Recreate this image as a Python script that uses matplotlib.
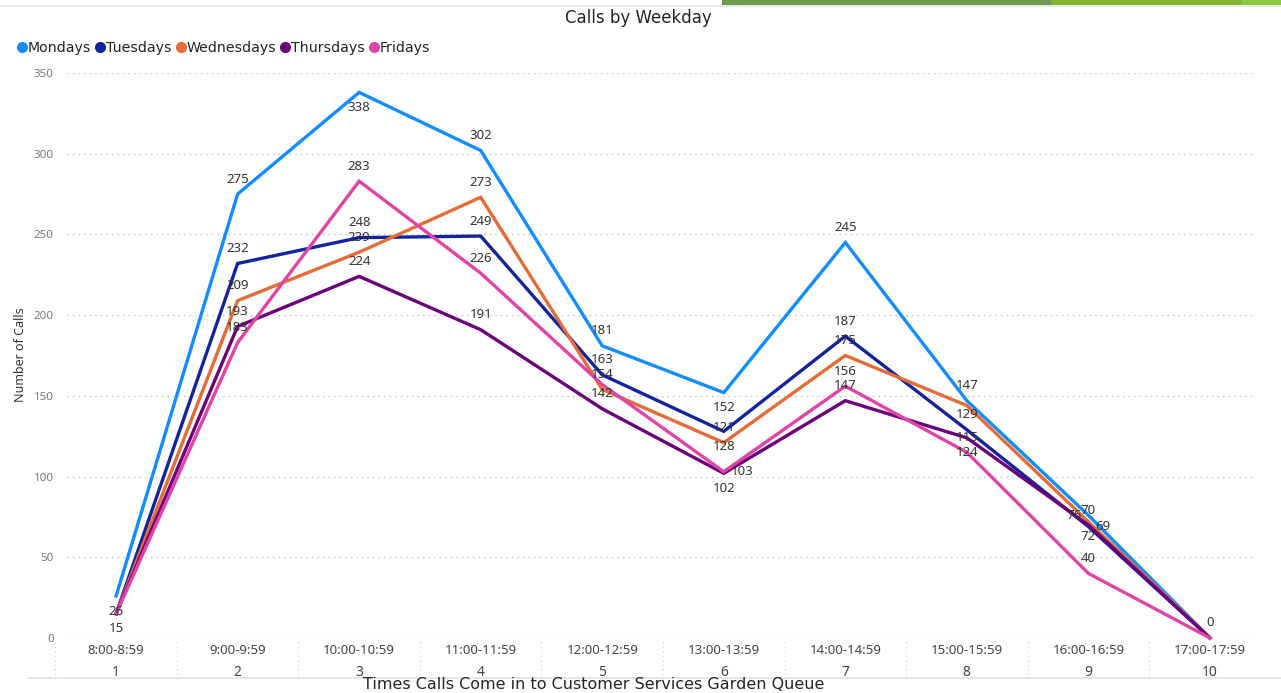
import matplotlib
matplotlib.use("Agg")
import matplotlib.pyplot as plt
from matplotlib.lines import Line2D
from matplotlib.patches import Rectangle
import matplotlib.transforms as mtransforms

# ---------------- data ----------------
categories = ["8:00-8:59", "9:00-9:59", "10:00-10:59", "11:00-11:59", "12:00-12:59",
              "13:00-13:59", "14:00-14:59", "15:00-15:59", "16:00-16:59", "17:00-17:59"]
slots = [1, 2, 3, 4, 5, 6, 7, 8, 9, 10]
series_names = ["Mondays", "Tuesdays", "Wednesdays", "Thursdays", "Fridays"]
mondays = [26, 275, 338, 302, 181, 152, 245, 147, 76, 0]
tuesdays = [15, 232, 248, 249, 163, 128, 187, 129, 69, 0]
wednesdays = [15, 209, 239, 273, 154, 121, 175, 144, 72, 0]
thursdays = [15, 193, 224, 191, 142, 102, 147, 124, 70, 0]
fridays = [15, 183, 283, 226, 157, 103, 156, 115, 40, 0]
yticks = [0, 50, 100, 150, 200, 250, 300, 350]

# ---------------- style ----------------
colors = ["#118DFF", "#12239E", "#E66C37", "#6B007B", "#E044A7"]
# label placement per point: a=above, b=below, l=left, r=right, None=hidden
placement = [
    ["b", "a", "b", "a", "a", "b", "a", "a", "l", "a"],
    ["b", "a", "a", "a", "a", "b", "a", "a", "r", None],
    [None, "a", "a", "a", "a", "a", "a", None, "b", None],
    [None, "a", "a", "a", "a", "b", "a", "b", "a", None],
    [None, "a", "a", "a", None, "r", "a", "a", "a", None],
]

cond = ["Liberation Sans Narrow", "DejaVu Sans"]
ui = ["Noto Sans", "DejaVu Sans"]

W, H = 1281, 693
fig = plt.figure(figsize=(W / 100, H / 100), dpi=100)
fig.patch.set_facecolor("white")

x_left, x_right = 55.3, 1270.7
y_zero, y_top = 638, 73
ax = fig.add_axes([x_left / W, 1 - y_zero / H, (x_right - x_left) / W, (y_zero - y_top) / H])
ax.set_xlim(0.5, 10.5)
ax.set_ylim(0, 350)
for s in ax.spines.values():
    s.set_visible(False)

# gridlines
gx0 = (67 - x_left) / (x_right - x_left)
gx1 = (1255 - x_left) / (x_right - x_left)
for t in yticks:
    ax.axhline(t, gx0, gx1, color="#BFBFBF", lw=1.0, ls=(0, (1, 3)), zorder=0)

all_series = [mondays, tuesdays, wednesdays, thursdays, fridays]
for vals, col in zip(all_series, colors):
    ax.plot(slots, vals, color=col, lw=2.4, solid_joinstyle="miter", clip_on=False, zorder=3)

off = 15
for vals, plc in zip(all_series, placement):
    for xv, yv, p in zip(slots, vals, plc):
        if p is None:
            continue
        if p == "a":
            dx, dy, ha = 0, off, "center"
        elif p == "b":
            dx, dy, ha = 0, -off, "center"
        elif p == "l":
            dx, dy, ha = -7, 0, "right"
        else:
            dx, dy, ha = 7, 0, "left"
        ax.annotate(str(yv), (xv, yv), xytext=(dx, dy), textcoords="offset pixels",
                    ha=ha, va="center", fontsize=9.5, color="#333333", family=ui,
                    zorder=5, annotation_clip=False)

# y axis
ax.set_yticks(yticks)
ax.set_yticklabels([str(t) for t in yticks], family=ui, fontsize=8.3, color="#777777")
ax.tick_params(axis="y", length=0, pad=1)
ax.set_ylabel("Number of Calls", family=ui, fontsize=9, color="#333333")
ax.yaxis.set_label_coords(27 / W, 1 - 355 / H, transform=fig.transFigure)

# x axis (two-level categories)
ax.set_xticks(slots)
ax.set_xticklabels(categories, family=ui, fontsize=9.5, color="#444444")
ax.tick_params(axis="x", length=0, pad=4)
trans = mtransforms.blended_transform_factory(ax.transData, fig.transFigure)
for xv in slots:
    ax.text(xv, 1 - 672 / H, str(xv), transform=trans, ha="center", va="center",
            fontsize=10, family=ui, color="#444444")
for i in range(len(slots)):
    ax.plot([slots[i] - 0.5, slots[i] - 0.5], [1 - 642 / H, 1 - 681 / H], transform=trans,
            color="#CCCCCC", lw=0.8, ls=(0, (1, 3)), clip_on=False)

# title
fig.text(638 / W, 1 - 18 / H, "Calls by Weekday", ha="center", va="center",
         fontsize=12, family=cond, color="#252423")

# legend
handles = [Line2D([0], [0], marker="o", color="none", markerfacecolor=c, markeredgecolor=c,
                  markersize=7) for c in colors]
fig.legend(handles, series_names, loc="center left", bbox_to_anchor=(12 / W, 1 - 48 / H),
           ncol=5, frameon=False, handlelength=0.6, handletextpad=0.1, columnspacing=0.35,
           borderaxespad=0, prop={"family": cond, "size": 10.2}, labelcolor="#252423")

# x axis title (at the bottom edge)
fig.text(594 / W, 1 - 692 / H, "Times Calls Come in to Customer Services Garden Queue",
         ha="center", va="bottom", fontsize=11.5, family=cond, color="#252423")

# decorative frame elements
fig.patches.append(Rectangle((27 / W, 1 - 679 / H), 1 - 27 / W, 2 / H, transform=fig.transFigure,
                             facecolor="#E6E6E6", edgecolor="none"))
fig.patches.append(Rectangle((0, 1 - 7 / H), 1, 2 / H, transform=fig.transFigure,
                             facecolor="#E9E9E9", edgecolor="none"))
fig.patches.append(Rectangle((722 / W, 1 - 5 / H), (1051 - 722) / W, 5 / H, transform=fig.transFigure,
                             facecolor="#6E9B4E", edgecolor="none"))
fig.patches.append(Rectangle((1051 / W, 1 - 5 / H), (1242 - 1051) / W, 5 / H, transform=fig.transFigure,
                             facecolor="#84B234", edgecolor="none"))
fig.patches.append(Rectangle((1242 / W, 1 - 5 / H), (W - 1242) / W, 5 / H, transform=fig.transFigure,
                             facecolor="#8DC63F", edgecolor="none"))

fig.savefig("out.png", dpi=100, facecolor="white")
